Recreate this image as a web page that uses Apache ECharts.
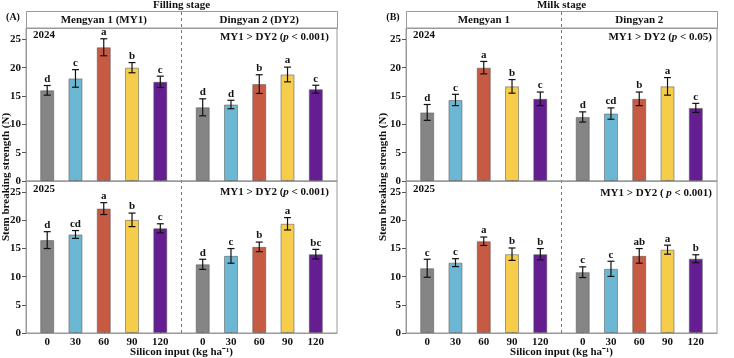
<!DOCTYPE html>
<html>
<head>
<meta charset="utf-8">
<script src="https://cdn.jsdelivr.net/npm/echarts@6/dist/echarts.min.js"></script>
<style>
  html, body { margin: 0; padding: 0; background: #fff; }
  #chart { width: 734px; height: 358px; }
</style>
</head>
<body>
<div id="chart"></div>
<script>
// silicon doses, same five for each cultivar
const doses = ['0', '30', '60', '90', '120'];
const barColors = ['#858585', '#6cb8d4', '#c65a42', '#f6cd4b', '#641e92'];
const yTicks = [0, 5, 10, 15, 20, 25];

// first 5 = Mengyan 1, last 5 = Dingyan 2
const fill2024 = [16.0, 18.1, 23.6, 20.0, 17.5, 13.0, 13.5, 17.1, 18.8, 16.2];
const fill2024Err = [0.85, 1.55, 1.5, 0.9, 1.0, 1.5, 0.75, 1.65, 1.3, 0.7];
const fill2024Sig = ['d', 'c', 'a', 'b', 'c', 'd', 'd', 'b', 'a', 'c'];

const fill2025 = [16.5, 17.5, 22.1, 20.1, 18.6, 12.2, 13.7, 15.3, 19.4, 14.0];
const fill2025Err = [1.5, 0.7, 1.05, 1.2, 0.8, 0.9, 1.3, 0.85, 1.1, 0.85];
const fill2025Sig = ['d', 'cd', 'a', 'b', 'c', 'd', 'c', 'b', 'a', 'bc'];

const milk2024 = [12.1, 14.3, 20.0, 16.7, 14.5, 11.3, 11.9, 14.5, 16.7, 12.9];
const milk2024Err = [1.4, 1.0, 1.1, 1.2, 1.2, 0.9, 1.0, 1.2, 1.55, 0.8];
const milk2024Sig = ['d', 'c', 'a', 'b', 'c', 'd', 'cd', 'b', 'a', 'c'];

const milk2025 = [11.5, 12.5, 16.3, 14.0, 14.0, 10.8, 11.4, 13.7, 14.8, 13.2];
const milk2025Err = [1.6, 0.7, 0.75, 1.1, 1.0, 0.95, 1.35, 1.3, 0.8, 0.7];
const milk2025Sig = ['c', 'c', 'a', 'b', 'b', 'c', 'c', 'ab', 'a', 'b'];

const FONT = '"Liberation Serif", "Times New Roman", serif';
const GRAY = '#9a9a9a';

// x position on the value axis: gap of 1.5 between the cultivars
const xPos = i => (i < 5 ? i : i + 0.5);
const xTicks = doses.map((d, i) => i).concat(doses.map((d, i) => i + 5.5));

const panels = [
  { left: 26, right: 397, top: 28, height: 153, vals: fill2024, err: fill2024Err, sig: fill2024Sig, showX: false },
  { left: 26, right: 397, top: 181, height: 152, vals: fill2025, err: fill2025Err, sig: fill2025Sig, showX: true },
  { left: 406, right: 17, top: 28, height: 153, vals: milk2024, err: milk2024Err, sig: milk2024Sig, showX: false },
  { left: 406, right: 17, top: 181, height: 152, vals: milk2025, err: milk2025Err, sig: milk2025Sig, showX: true }
];

const txt = { fontFamily: FONT, fontWeight: 'bold', color: '#111' };

let grid = [], xAxis = [], yAxis = [], series = [];
panels.forEach((p, k) => {
  grid.push({
    left: p.left, right: p.right, top: p.top, height: p.height,
    show: true, borderColor: GRAY, borderWidth: 1
  });
  xAxis.push({
    gridIndex: k, type: 'value', min: -0.75, max: 10.25,
    axisLine: { show: true, onZero: false, lineStyle: { color: GRAY } },
    axisTick: { show: true, inside: true, length: 3, customValues: xTicks, lineStyle: { color: '#555' } },
    axisLabel: {
      show: p.showX, customValues: xTicks, margin: 4, fontSize: 11, ...txt,
      formatter: v => doses[Math.round(v < 5 ? v : v - 5.5)]
    },
    splitLine: { show: false }
  });
  yAxis.push({
    gridIndex: k, type: 'value', min: 0, max: 27,
    axisLine: { show: true, onZero: false, lineStyle: { color: GRAY } },
    axisTick: { show: true, inside: false, length: 4, customValues: yTicks, lineStyle: { color: '#555' } },
    axisLabel: { customValues: yTicks, margin: 5, fontSize: 11, ...txt },
    splitLine: { show: false }
  });
  series.push({
    type: 'bar', xAxisIndex: k, yAxisIndex: k, barWidth: 14,
    itemStyle: { borderColor: 'rgba(90,90,90,0.55)', borderWidth: 1 },
    data: p.vals.map((v, i) => ({ value: [xPos(i), v], itemStyle: { color: barColors[i % 5] } }))
  });
  series.push({
    type: 'custom', xAxisIndex: k, yAxisIndex: k, z: 5,
    data: p.vals.map((v, i) => [xPos(i), v, p.err[i]]),
    renderItem: (params, api) => {
      const x = api.value(0), y = api.value(1), e = api.value(2);
      const top = api.coord([x, y + e]);
      const bot = api.coord([x, y - e]);
      const cap = 3.5;
      const ls = { stroke: '#111', lineWidth: 1.2 };
      return {
        type: 'group',
        children: [
          { type: 'line', shape: { x1: top[0], y1: top[1], x2: bot[0], y2: bot[1] }, style: ls },
          { type: 'line', shape: { x1: top[0] - cap, y1: top[1], x2: top[0] + cap, y2: top[1] }, style: ls },
          { type: 'line', shape: { x1: bot[0] - cap, y1: bot[1], x2: bot[0] + cap, y2: bot[1] }, style: ls },
          {
            type: 'text', x: top[0], y: top[1] - 1,
            style: {
              text: p.sig[params.dataIndex], align: 'center', verticalAlign: 'bottom',
              fontSize: 11, fontFamily: FONT, fontWeight: 'bold', fill: '#111'
            }
          }
        ]
      };
    }
  });
});

// decorations: headers, dividers, titles
function label(text, x, y, align, size, extra) {
  return {
    type: 'text', x: x, y: y, z: 10,
    style: Object.assign({
      text: text, align: align || 'center', verticalAlign: 'middle',
      fontSize: size || 11, fontFamily: FONT, fontWeight: 'bold', fill: '#111'
    }, extra || {})
  };
}
function pText(open, rest, x, y) {
  return label('{b|MY1 > DY2 ' + open + '}{i|p}{b|' + rest + '}', x, y, 'right', 11, {
    rich: {
      b: { fontSize: 11, fontFamily: FONT, fontWeight: 'bold', fill: '#111' },
      i: { fontSize: 11, fontFamily: FONT, fontWeight: 'bold', fontStyle: 'italic', fill: '#111' }
    }
  });
}

const graphic = [];
[[26, 337, 'Filling stage', '(A)', 'Mengyan 1 (MY1)', 'Dingyan 2 (DY2)', 6],
 [406, 717, 'Milk stage', '(B)', 'Mengyan 1', 'Dingyan 2', 383]].forEach(d => {
  const [l, r, title, tag, h1, h2, yx] = d;
  const mid = (l + r) / 2;
  graphic.push({ type: 'rect', shape: { x: l + 0.5, y: 11.5, width: r - l, height: 17 }, style: { fill: 'none', stroke: GRAY, lineWidth: 1 } });
  graphic.push({ type: 'line', shape: { x1: mid, y1: 12, x2: mid, y2: 333 }, style: { stroke: '#777', lineWidth: 1, lineDash: [3, 3] } });
  graphic.push(label(title, mid, 5));
  graphic.push(label(tag, l - 13, 17, 'center', 10));
  graphic.push(label(h1, (l + mid) / 2, 20));
  graphic.push(label(h2, (mid + r) / 2, 20));
  graphic.push(label('2024', l + 7, 35, 'left'));
  graphic.push(label('2025', l + 7, 189, 'left'));
  graphic.push(label('Silicon input (kg ha\u207B\u00B9)', mid, 352));
  graphic.push(Object.assign(label('Stem breaking strength (N)', yx, 177), { rotation: Math.PI / 2 }));
});
graphic.push(pText('(', ' < 0.001)', 329, 37));
graphic.push(pText('(', ' < 0.001)', 329, 192));
graphic.push(pText('(', ' < 0.05)', 712, 37));
graphic.push(pText('( ', ' < 0.001)', 712, 193));

const chart = echarts.init(document.getElementById('chart'));
chart.setOption({
  animation: false,
  grid: grid,
  xAxis: xAxis,
  yAxis: yAxis,
  series: series,
  graphic: graphic
});
</script>
</body>
</html>
